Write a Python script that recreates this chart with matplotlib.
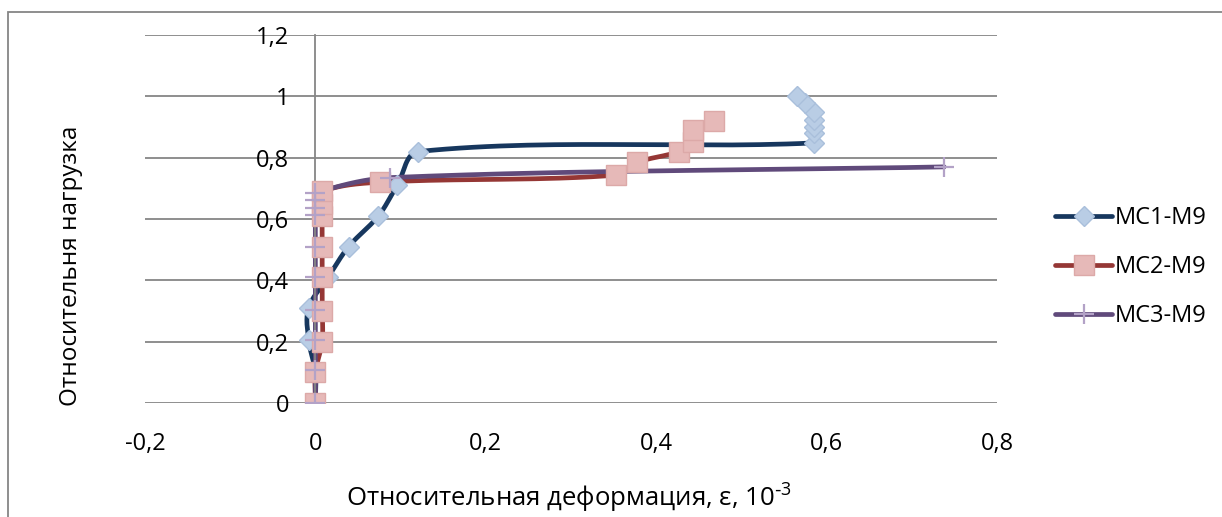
import matplotlib
matplotlib.use('Agg')
import matplotlib.pyplot as plt
from matplotlib.patches import Rectangle
import numpy as np

plt.rcParams['font.family'] = ['Open Sans', 'DejaVu Sans']
plt.rcParams['mathtext.default'] = 'regular'

# data
mc1_x = [0, 0, -0.008, -0.008, 0.015, 0.039, 0.074, 0.096, 0.121, 0.585, 0.585, 0.585, 0.585, 0.585, 0.575, 0.565]
mc1_y = [0, 0.1, 0.205, 0.31, 0.41, 0.51, 0.61, 0.71, 0.82, 0.848, 0.88, 0.90, 0.923, 0.95, 0.978, 1.0]

mc2_x = [0, 0, 0.008, 0.008, 0.008, 0.008, 0.008, 0.008, 0.008, 0.076, 0.353, 0.378, 0.427, 0.443, 0.443, 0.468]
mc2_y = [0, 0.1, 0.2, 0.3, 0.41, 0.51, 0.61, 0.65, 0.69, 0.72, 0.743, 0.785, 0.82, 0.85, 0.89, 0.92]

mc3_x = [0, 0, 0, 0, 0, 0, 0, 0, 0, 0, 0.088, 0.738]
mc3_y = [0, 0.108, 0.205, 0.303, 0.41, 0.51, 0.613, 0.636, 0.662, 0.685, 0.735, 0.77]

labels = ['MC1-M9', 'MC2-M9', 'MC3-M9']
x_ticks = [-0.2, 0, 0.2, 0.4, 0.6, 0.8]
y_ticks = [0, 0.2, 0.4, 0.6, 0.8, 1, 1.2]


def smooth(xs, ys, n=30, aspect=2.77):
    # bezier through the points, tangent from neighbours, handles = segment length / 3
    p = np.column_stack([np.asarray(xs, float) * aspect, np.asarray(ys, float)])
    k = len(p)
    d = np.zeros_like(p)
    for i in range(k):
        v = p[min(i + 1, k - 1)] - p[max(i - 1, 0)]
        nv = np.hypot(*v)
        d[i] = v / nv if nv > 0 else 0
    t = np.linspace(0, 1, n)[:, None]
    out = []
    for i in range(k - 1):
        L = np.hypot(*(p[i + 1] - p[i]))
        c1 = p[i] + d[i] * L / 3
        c2 = p[i + 1] - d[i + 1] * L / 3
        out.append((1 - t) ** 3 * p[i] + 3 * (1 - t) ** 2 * t * c1
                   + 3 * (1 - t) * t ** 2 * c2 + t ** 3 * p[i + 1])
    out = np.vstack(out)
    return out[:, 0] / aspect, out[:, 1]


fig = plt.figure(figsize=(12.22, 5.17), dpi=100)
ax = fig.add_axes([145 / 1222, (517 - 403) / 517, 852 / 1222, 368 / 517])

grid_c = '#868686'
series = [
    (mc1_x, mc1_y, '#17375E', dict(marker='D', ms=10, mfc='#B9CDE5', mec='#A9BFDB', mew=1)),
    (mc2_x, mc2_y, '#953735', dict(marker='s', ms=14, mfc='#E6B9B8', mec='#DCA9A8', mew=1)),
    (mc3_x, mc3_y, '#604A7B', dict(marker='+', ms=14, mec='#B3A2C7', mew=1.6)),
]
handles = []
for xs, ys, lc, mk in series:
    sx, sy = smooth(xs, ys)
    ax.plot(sx, sy, color=lc, lw=3.4, solid_capstyle='round', zorder=2)
    ax.plot(xs, ys, ls='none', zorder=3, **mk)
    handles.append(plt.Line2D([], [], color=lc, lw=3.4, solid_capstyle='round', **mk))

ax.set_xlim(-0.2, 0.8)
ax.set_ylim(0, 1.2)
ax.set_xticks(x_ticks)
ax.set_yticks(y_ticks)
ax.set_xticklabels([('%g' % v).replace('.', ',') for v in x_ticks])
ax.set_yticklabels([('%g' % v).replace('.', ',') for v in y_ticks])
ax.yaxis.grid(True, color=grid_c, lw=1.3)
ax.set_axisbelow(True)
for s in ['top', 'right', 'bottom']:
    ax.spines[s].set_visible(False)
ax.spines['left'].set_position(('data', 0))
ax.spines['left'].set_color(grid_c)
ax.spines['left'].set_linewidth(1.3)
ax.tick_params(axis='both', length=0, labelsize=17, colors='black')
ax.tick_params(axis='y', pad=19)
ax.tick_params(axis='x', pad=21)

fig.text(569 / 1222, 1 - 498 / 517, r'Относительная деформация, ε, 10$^{\text{-}3}$',
         ha='center', va='center', fontsize=18.5)
fig.text(71 / 1222, 1 - 266 / 517, 'Относительня нагрузка', rotation=90,
         ha='center', va='center', fontsize=17.5)

fig.legend(handles, labels, loc='center left', bbox_to_anchor=(1034 / 1222, 1 - 267 / 517),
           frameon=False, fontsize=17, handlelength=2.4, labelspacing=1.05, handletextpad=0.1)

# outer chart border (continues past the right and bottom edges)
fig.patches.append(Rectangle((8, -100), 1400, 605, transform=None, fill=False,
                             ec=grid_c, lw=1.3, figure=fig))

fig.savefig('out.png', dpi=100)
